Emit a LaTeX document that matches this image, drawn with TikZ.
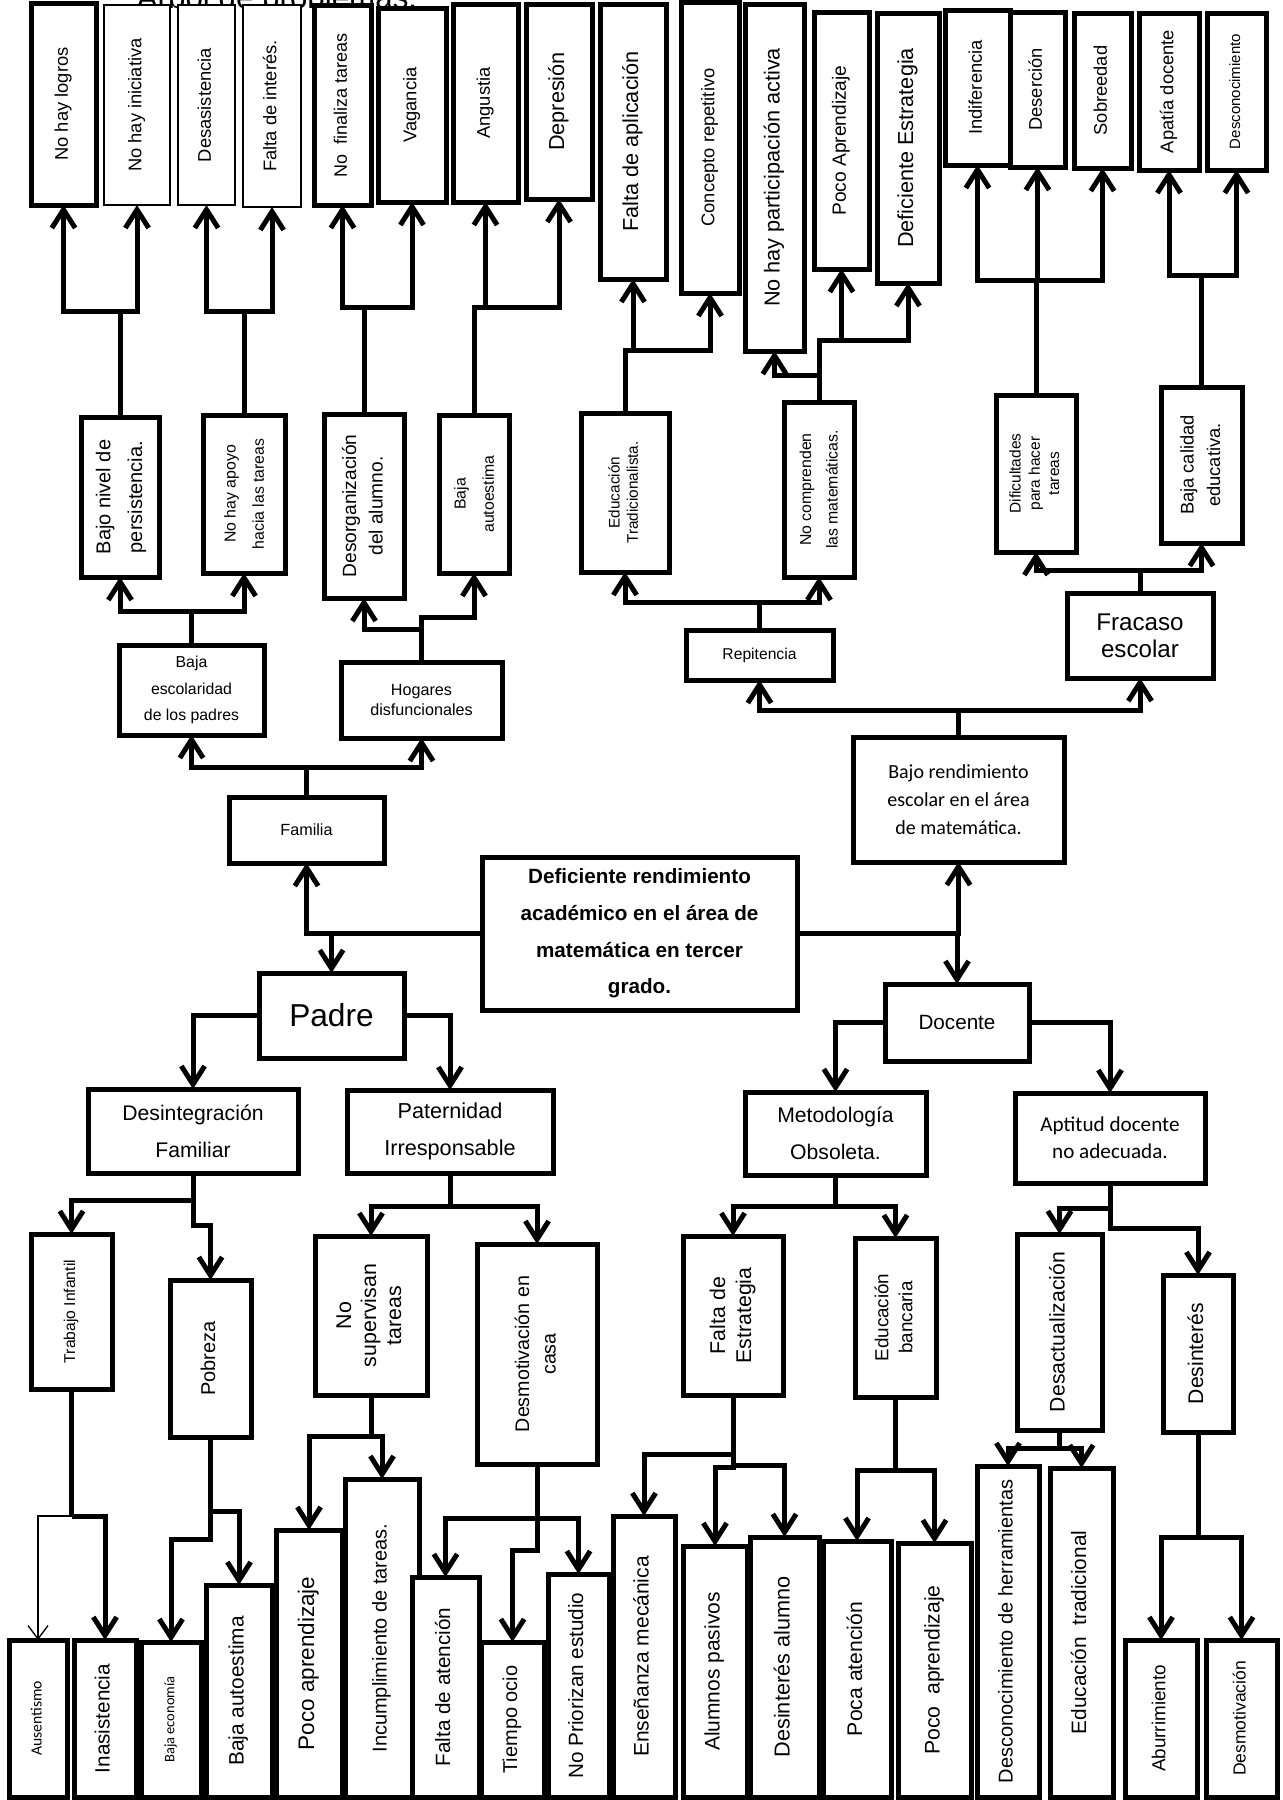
\documentclass[tikz,border=0pt]{standalone}
\usepackage{fontspec}
\setmainfont{Liberation Sans}
\newfontfamily\calib{Carlito}
\usepackage{graphicx}
\usetikzlibrary{arrows.meta}
\newcommand\fz[2]{\fontsize{#1}{#2}\selectfont}
\newcommand\Vt[1]{\rotatebox{90}{\begin{tabular}{@{}c@{}}#1\end{tabular}}}
\newcommand\Bx[7][]{\node[bx,#1,minimum width={(#5-#3)*0.6pt},minimum height={(#6-#4)*0.6pt}] (#2) at ({(#3+#5)/2},{(#4+#6)/2}) {#7};}
\begin{document}
\begin{tikzpicture}[x=0.6pt,y=-0.6pt,
 bx/.style={draw,line width=3pt,fill=white,inner sep=0pt,outer sep=0pt,anchor=center,font=\fz{12}{15}},
 hz/.style={align=center},
 thinbx/.style={line width=1.6pt},
 ln/.style={line width=3pt},
 ar/.style={line width=3pt,-{Straight Barb[length=11pt,width=14pt]}},
 thinar/.style={line width=0.8pt,-{Straight Barb[length=8pt,width=12pt]}}]
\useasboundingbox (0,0) rectangle (1283,1800);
\node[anchor=base,font=\fz{18.8}{20}] (title) at (277,8) {Árbol de problemas.};
% top row
\Bx[font=\fz{11}{13}]{logros}{31}{3}{96}{205}{\Vt{No hay logros}}
\Bx[thinbx,font=\fz{11}{13}]{inic}{104}{5}{170}{205}{\Vt{No hay iniciativa}}
\Bx[thinbx,font=\fz{11}{13}]{desas}{178}{5}{235}{205}{\Vt{Desasistencia}}
\Bx[thinbx,font=\fz{11}{13}]{faltaint}{243}{5}{301}{207}{\Vt{Falta de interés.}}
\Bx[font=\fz{10.8}{13}]{nofin}{314}{5}{371}{205}{\Vt{No~ finaliza tareas}}
\Bx[font=\fz{11}{13}]{vagancia}{378}{8}{446}{202}{\Vt{Vagancia}}
\Bx[font=\fz{11}{13}]{angustia}{453}{4}{518}{202}{\Vt{Angustia}}
\Bx[font=\fz{13}{15}]{depresion}{526}{4}{592}{199}{\Vt{Depresión}}
\Bx[font=\fz{13}{15}]{faltaapl}{600}{4}{666}{279}{\Vt{Falta de aplicación}}
\Bx[font=\fz{11}{13}]{concepto}{681}{2}{739}{293}{\Vt{Concepto repetitivo}}
\Bx[font=\fz{13}{15}]{nopart}{745}{4}{804}{351}{\Vt{No hay participación activa}}
\Bx[font=\fz{11.5}{13}]{pocoapr}{814}{12}{869}{269}{\Vt{Poco Aprendizaje}}
\Bx[font=\fz{13}{15}]{deficest}{877}{13}{939}{283}{\Vt{Deficiente Estrategia}}
\Bx[font=\fz{11}{13}]{indif}{945}{10}{1010}{165}{\Vt{Indiferencia}}
\Bx[font=\fz{11}{13}]{desercion}{1010}{12}{1065}{167}{\Vt{Deserción}}
\Bx[font=\fz{11}{13}]{sobreedad}{1074}{13}{1131}{168}{\Vt{Sobreedad}}
\Bx[font=\fz{11}{13}]{apatia}{1139}{13}{1199}{170}{\Vt{Apatía docente}}
\Bx[font=\fz{9}{11}]{descon}{1207}{13}{1266}{170}{\Vt{Desconocimiento}}
% second row
\Bx[font=\fz{12}{19}]{bajonivel}{81}{417}{159}{577}{\Vt{Bajo nivel de\\persistencia.}}
\Bx[font=\fz{9.5}{17}]{noapoyo}{203}{415}{285}{573}{\Vt{No hay apoyo\\hacia las tareas}}
\Bx[font=\fz{11.5}{16}]{desorg}{324}{414}{404}{598}{\Vt{Desorganización\\del alumno.}}
\Bx[font=\fz{9.5}{17}]{bajaauto}{439}{415}{509}{573}{\Vt{Baja\\autoestima}}
\Bx[font=\fz{9.2}{11}]{edtrad}{581}{413}{669}{572}{\Vt{Educación\\Tradicionalista.}}
\Bx[font=\fz{9.5}{16}]{nocomp}{784}{402}{854}{577}{\Vt{No comprenden\\las matemáticas.}}
\Bx[font=\fz{9.3}{11.5}]{dificult}{996}{395}{1076}{552}{\Vt{Dificultades\\para hacer\\tareas}}
\Bx[font=\fz{11}{16}]{bajacal}{1161}{387}{1242}{543}{\Vt{Baja calidad\\educativa.}}
% horizontal boxes
\Bx[hz,font=\fz{9.5}{16}]{bajaesc}{119}{645}{264}{735}{Baja\\escolaridad\\de los padres}
\Bx[hz,font=\fz{9.7}{12}]{hogares}{341}{662}{502}{738}{Hogares\\disfuncionales}
\Bx[hz,font=\fz{9.4}{11}]{repit}{686}{630}{833}{680}{Repitencia}
\Bx[hz,font=\fz{14.5}{16}]{fracaso}{1067}{593}{1213}{678}{Fracaso\\escolar}
\Bx[hz,font=\fz{9.7}{11}]{familia}{229}{797}{384}{863}{Familia}
\Bx[hz,font=\calib\fz{12}{17}]{bajorend}{853}{737}{1064}{862}{Bajo rendimiento\\escolar en el área\\de matemática.}
\Bx[hz,font=\bfseries\fz{12.4}{22}]{deficiente}{482}{857}{797}{1010}{Deficiente rendimiento\\académico en el área de\\matemática en tercer\\grado.}
\Bx[hz,font=\fz{19}{22}]{padre}{259}{973}{404}{1058}{Padre}
\Bx[hz,font=\fz{12.4}{15}]{docente}{885}{984}{1029}{1061}{Docente}
\Bx[hz,font=\fz{12.7}{22}]{desint}{88}{1089}{298}{1173}{Desintegración\\Familiar}
\Bx[hz,font=\fz{13}{22}]{patern}{347}{1090}{553}{1173}{Paternidad\\Irresponsable}
\Bx[hz,font=\fz{12.7}{22}]{metod}{745}{1092}{926}{1175}{Metodología\\Obsoleta.}
\Bx[hz,font=\calib\fz{12.7}{16}]{aptitud}{1015}{1093}{1205}{1183}{Aptitud docente\\no adecuada.}
% fifth row
\Bx[font=\fz{9.4}{11}]{trabajo}{31}{1234}{112}{1389}{\Vt{Trabajo Infantil}}
\Bx[font=\fz{12}{14}]{pobreza}{170}{1280}{251}{1437}{\Vt{Pobreza}}
\Bx[font=\fz{12.8}{15}]{nosuperv}{315}{1236}{427}{1395}{\Vt{No\\supervisan\\tareas}}
\Bx[font=\fz{11.8}{16}]{desmcasa}{477}{1244}{597}{1464}{\Vt{Desmotivación en\\casa}}
\Bx[font=\fz{12.8}{15.6}]{faltaestr}{683}{1236}{783}{1395}{\Vt{Falta de\\Estrategia}}
\Bx[font=\fz{11.3}{14.4}]{edbanc}{855}{1238}{936}{1397}{\Vt{Educación\\bancaria}}
\Bx[font=\fz{12.7}{15}]{desact}{1017}{1234}{1102}{1430}{\Vt{Desactualización}}
\Bx[font=\fz{12.7}{15}]{desint2}{1163}{1275}{1233}{1432}{\Vt{Desinterés}}
% bottom row
\Bx[font=\calib\fz{9.4}{11}]{ausent}{9}{1640}{67}{1797}{\Vt{Ausentismo}}
\Bx[font=\fz{12.4}{14}]{inasist}{74}{1640}{136}{1797}{\Vt{Inasistencia}}
\Bx[font=\calib\fz{8.7}{10}]{bajaecon}{141}{1642}{201}{1797}{\Vt{Baja economía}}
\Bx[font=\fz{12.5}{14}]{bajaauto2}{206}{1585}{272}{1797}{\Vt{Baja autoestima}}
\Bx[font=\fz{13.5}{15}]{pocoapr2}{276}{1530}{342}{1797}{\Vt{Poco aprendizaje}}
\Bx[font=\fz{12}{14}]{incump}{345}{1479}{419}{1797}{\Vt{Incumplimiento de tareas.}}
\Bx[font=\fz{12.4}{14}]{faltaaten}{412}{1577}{479}{1797}{\Vt{Falta de atención}}
\Bx[font=\fz{12}{14}]{tiempo}{481}{1642}{544}{1797}{\Vt{Tiempo ocio}}
\Bx[font=\fz{12.4}{14}]{nopriori}{548}{1574}{609}{1797}{\Vt{No Priorizan estudio}}
\Bx[font=\fz{12.6}{14}]{ensen}{613}{1516}{675}{1797}{\Vt{Enseñanza mecánica}}
\Bx[font=\fz{12.6}{14}]{alumnos}{683}{1546}{747}{1797}{\Vt{Alumnos pasivos}}
\Bx[font=\fz{13}{15}]{desintal}{750}{1537}{819}{1797}{\Vt{Desinterés alumno}}
\Bx[font=\fz{12.7}{15}]{pocaaten}{823}{1541}{891}{1797}{\Vt{Poca atención}}
\Bx[font=\fz{12.7}{15}]{pocoapr3}{898}{1543}{971}{1797}{\Vt{Poco~ aprendizaje}}
\Bx[font=\fz{12}{14}]{desconher}{977}{1466}{1039}{1797}{\Vt{Desconocimiento de herramientas}}
\Bx[font=\fz{12.5}{14}]{edtradic}{1050}{1468}{1113}{1797}{\Vt{Educación~ tradicional}}
\Bx[font=\fz{11.3}{13}]{aburr}{1125}{1640}{1197}{1797}{\Vt{Aburrimiento}}
\Bx[font=\fz{10.5}{12}]{desmot}{1206}{1640}{1277}{1797}{\Vt{Desmotivación}}
% connectors: second row -> top row
\draw[ar] (bajonivel.north) -- (bajonivel.north |- 0,311) -| (logros);
\draw[ar] (bajonivel.north |- 0,311) -| (inic);
\draw[ar] (noapoyo.north) -- (noapoyo.north |- 0,311) -| (desas);
\draw[ar] (noapoyo.north |- 0,311) -| (faltaint);
\draw[ar] (desorg.north) -- (desorg.north |- 0,307) -| (nofin);
\draw[ar] (desorg.north |- 0,307) -| (vagancia);
\draw[ar] (bajaauto.north) -- (bajaauto.north |- 0,307) -| (angustia);
\draw[ar] (bajaauto.north |- 0,307) -| (depresion);
\draw[ar] (edtrad.north) -- (edtrad.north |- 0,350) -| (faltaapl);
\draw[ar] (edtrad.north |- 0,350) -| (concepto);
\draw[ar] (nocomp.north) -- (nocomp.north |- 0,340) -| (pocoapr);
\draw[ar] (nocomp.north |- 0,340) -| (deficest);
\draw[ar] (nocomp.north |- 0,375) -| (nopart);
\draw[ar] (dificult.north) -- (dificult.north |- 0,280) -| (indif);
\draw[ar] (dificult.north |- 0,280) -| (desercion);
\draw[ar] (dificult.north |- 0,280) -| (sobreedad);
\draw[ar] (bajacal.north) -- (bajacal.north |- 0,275) -| (apatia);
\draw[ar] (bajacal.north |- 0,275) -| (descon);
% third -> second
\draw[ar] (bajaesc.north) -- (bajaesc.north |- 0,611) -| (bajonivel);
\draw[ar] (bajaesc.north |- 0,611) -| (noapoyo);
\draw[ar] (hogares.north) -- (hogares.north |- 0,629) -| (desorg);
\draw[ar] (hogares.north |- 0,629) |- (bajaauto.south |- 0,617) -- (bajaauto);
\draw[ar] (familia.north) -- (familia.north |- 0,767) -| (bajaesc);
\draw[ar] (familia.north |- 0,767) -| (hogares);
\draw[ar] (repit.north) -- (repit.north |- 0,602) -| (edtrad);
\draw[ar] (repit.north |- 0,602) -| (nocomp);
\draw[ar] (fracaso.north) -- (fracaso.north |- 0,570) -| (dificult);
\draw[ar] (fracaso.north |- 0,570) -| (bajacal);
\draw[ar] (bajorend.north) -- (bajorend.north |- 0,710) -| (repit);
\draw[ar] (bajorend.north |- 0,710) -| (fracaso);
% centre
\draw[ar] (deficiente.west) -| (familia);
\draw[ar] (padre.north |- deficiente.west) -- (padre);
\draw[ar] (deficiente.east) -| (bajorend);
\draw[ar] (docente.north |- deficiente.east) -- (docente);
\draw[ar] (padre.west) -| (desint);
\draw[ar] (padre.east) -| (patern);
\draw[ar] (docente.west) -| (metod);
\draw[ar] (docente.east) -| (aptitud);
% fourth -> fifth
\draw[ar] (desint.south) -- (desint.south |- 0,1200) -| (trabajo);
\draw[ar] (desint.south |- 0,1200) -- (desint.south |- 0,1225) -| (pobreza);
\draw[ar] (patern.south) -- (patern.south |- 0,1206) -| (nosuperv);
\draw[ar] (patern.south |- 0,1206) -| (desmcasa);
\draw[ar] (metod.south) -- (metod.south |- 0,1206) -| (faltaestr);
\draw[ar] (metod.south |- 0,1206) -| (edbanc);
\draw[ar] (aptitud.south) -- (aptitud.south |- 0,1208) -| (desact);
\draw[ar] (aptitud.south |- 0,1208) -- (aptitud.south |- 0,1228) -| (desint2);
% fifth -> bottom
\draw[ln] (trabajo.south) -- (trabajo.south |- 0,1516);
\draw[ar] (trabajo.south |- 0,1516) -| (inasist);
\draw[thinar] (trabajo.south |- 0,1516) -| (ausent);
\draw[ar] (pobreza.south) -- (pobreza.south |- 0,1539) -| (bajaecon);
\draw[ar] (pobreza.south |- 0,1511) -| (bajaauto2);
\draw[ar] (nosuperv.south) -- (nosuperv.south |- 0,1436) -| (pocoapr2);
\draw[ar] (nosuperv.south |- 0,1436) -| (incump);
\draw[ar] (desmcasa.south) -- (desmcasa.south |- 0,1518) -| (faltaaten);
\draw[ar] (desmcasa.south |- 0,1518) -| (nopriori);
\draw[ar] (desmcasa.south |- 0,1518) -- (desmcasa.south |- 0,1550) -| (tiempo);
\draw[ar] (faltaestr.south) -- (faltaestr.south |- 0,1454) -| (ensen);
\draw[ar] (faltaestr.south |- 0,1454) -- (faltaestr.south |- 0,1467) -| (alumnos);
\draw[ar] (faltaestr.south |- 0,1465) -| (desintal);
\draw[ar] (edbanc.south) -- (edbanc.south |- 0,1470) -| (pocaaten);
\draw[ar] (edbanc.south |- 0,1470) -| (pocoapr3);
\draw[ar] (desact.south) -- (desact.south |- 0,1448) -| (desconher);
\draw[ar] (desact.south |- 0,1448) -| (edtradic);
\draw[ar] (desint2.south) -- (desint2.south |- 0,1537) -| (aburr);
\draw[ar] (desint2.south |- 0,1537) -| (desmot);
\end{tikzpicture}
\end{document}
